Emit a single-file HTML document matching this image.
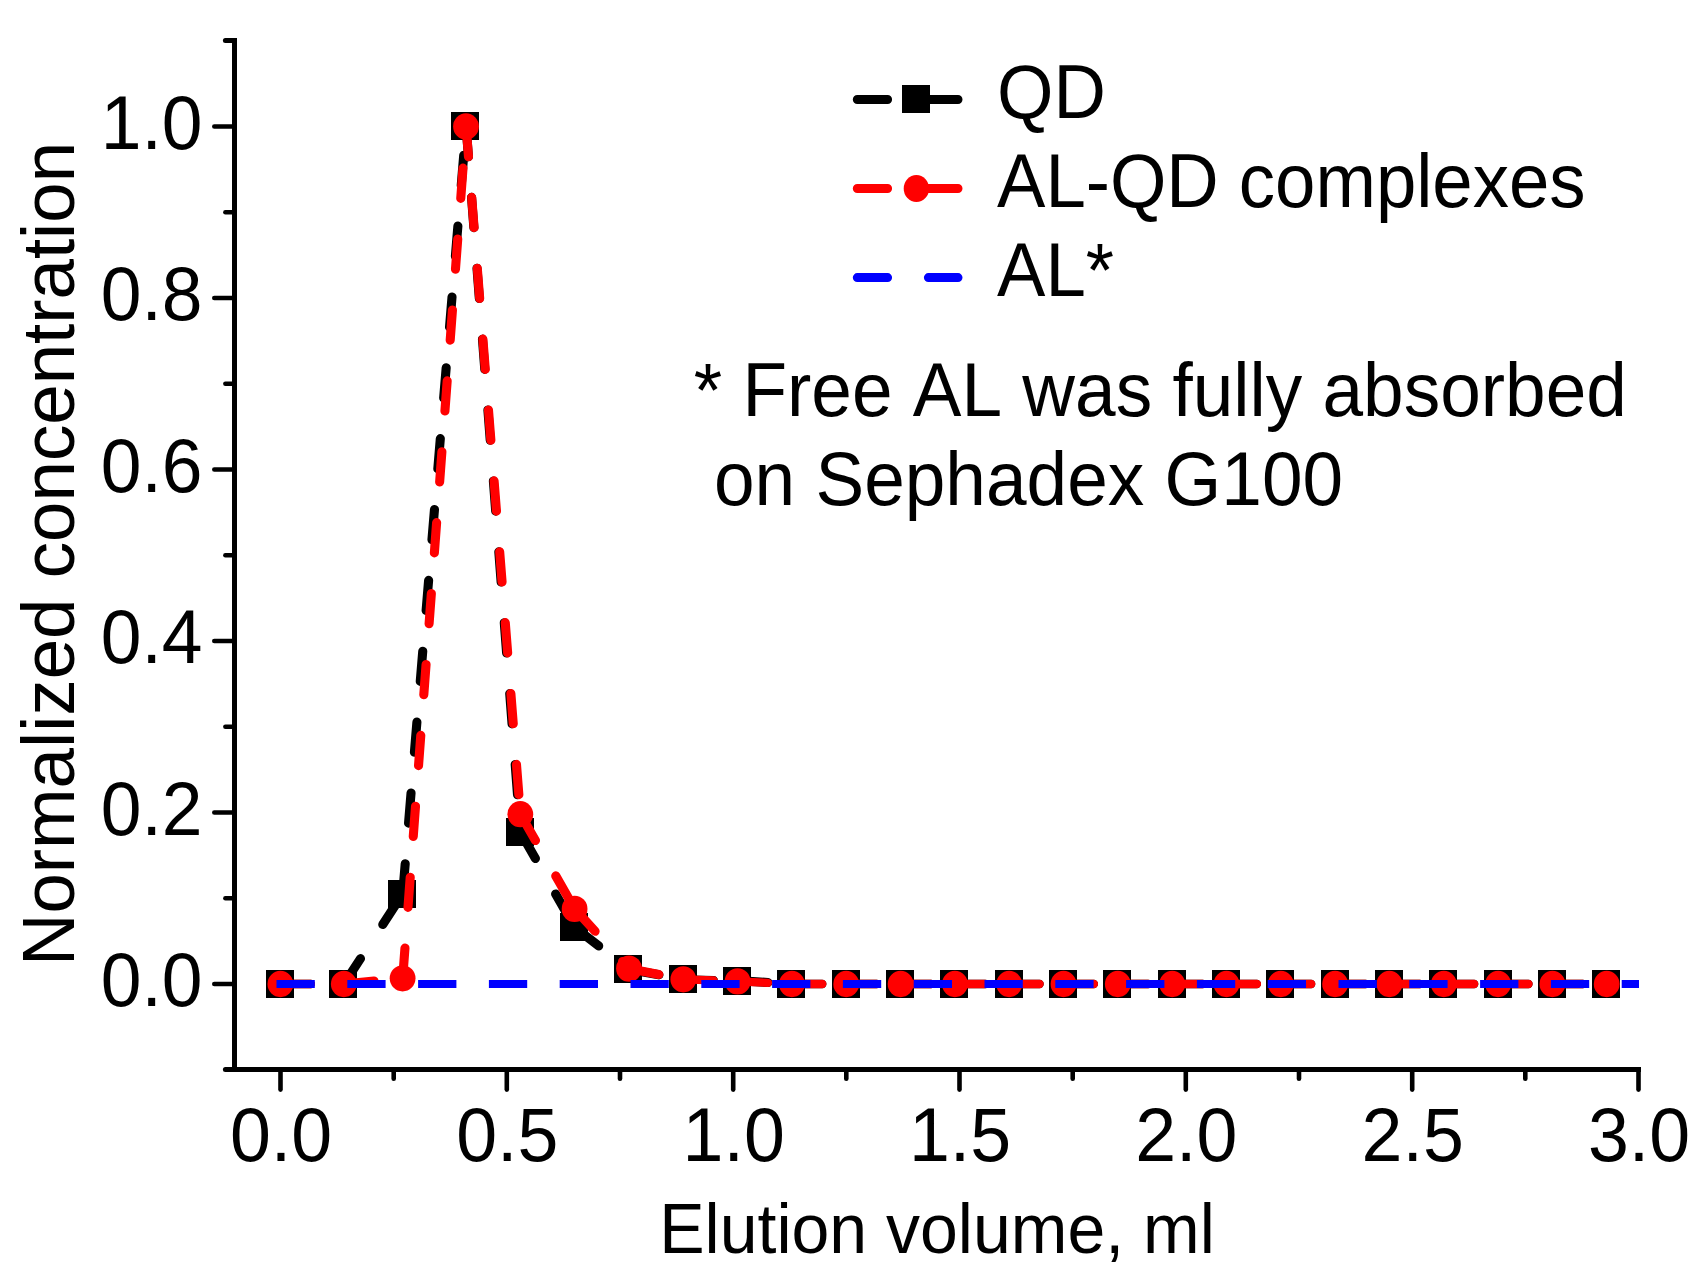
<!DOCTYPE html>
<html lang="en"><head><meta charset="utf-8"><title>Elution profile</title>
<style>html,body{margin:0;padding:0;background:#fff;overflow:hidden}svg{display:block}text{font-family:'Liberation Sans', sans-serif;fill:#000;font-kerning:none;white-space:pre}</style>
</head><body>
<svg width="1702" height="1273" viewBox="0 0 1702 1273">
<rect width="1702" height="1273" fill="#fff"/>
<g stroke="#000" stroke-width="5" fill="none" stroke-linecap="butt">
<line x1="234.5" y1="38" x2="234.5" y2="1072"/>
<line x1="232" y1="1069.5" x2="1641" y2="1069.5"/>
</g>
<g stroke="#000" stroke-width="4.6" fill="none" stroke-linecap="round">
<line x1="225.4" y1="1069.5" x2="234" y2="1069.5" stroke-width="5"/>
<line x1="214.3" y1="984.0" x2="234" y2="984.0"/>
<line x1="225.4" y1="898.2" x2="234" y2="898.2"/>
<line x1="214.3" y1="812.5" x2="234" y2="812.5"/>
<line x1="225.4" y1="726.8" x2="234" y2="726.8"/>
<line x1="214.3" y1="641.0" x2="234" y2="641.0"/>
<line x1="225.4" y1="555.2" x2="234" y2="555.2"/>
<line x1="214.3" y1="469.5" x2="234" y2="469.5"/>
<line x1="225.4" y1="383.8" x2="234" y2="383.8"/>
<line x1="214.3" y1="298.0" x2="234" y2="298.0"/>
<line x1="225.4" y1="212.2" x2="234" y2="212.2"/>
<line x1="214.3" y1="126.5" x2="234" y2="126.5"/>
<line x1="225.4" y1="40.5" x2="234" y2="40.5" stroke-width="5"/>
<line x1="280.5" y1="1070" x2="280.5" y2="1089.6"/>
<line x1="393.7" y1="1070" x2="393.7" y2="1078.7"/>
<line x1="506.8" y1="1070" x2="506.8" y2="1089.6"/>
<line x1="620.0" y1="1070" x2="620.0" y2="1078.7"/>
<line x1="733.2" y1="1070" x2="733.2" y2="1089.6"/>
<line x1="846.3" y1="1070" x2="846.3" y2="1078.7"/>
<line x1="959.5" y1="1070" x2="959.5" y2="1089.6"/>
<line x1="1072.7" y1="1070" x2="1072.7" y2="1078.7"/>
<line x1="1185.8" y1="1070" x2="1185.8" y2="1089.6"/>
<line x1="1299.0" y1="1070" x2="1299.0" y2="1078.7"/>
<line x1="1412.2" y1="1070" x2="1412.2" y2="1089.6"/>
<line x1="1525.3" y1="1070" x2="1525.3" y2="1078.7"/>
<line x1="1638.5" y1="1070" x2="1638.5" y2="1089.6"/>
</g>
<text transform="translate(202.5,1006.0) scale(1,1.040)" font-size="73.20" text-anchor="end">0.0</text>
<text transform="translate(202.5,834.5) scale(1,1.040)" font-size="73.20" text-anchor="end">0.2</text>
<text transform="translate(202.5,663.0) scale(1,1.040)" font-size="73.20" text-anchor="end">0.4</text>
<text transform="translate(202.5,491.5) scale(1,1.040)" font-size="73.20" text-anchor="end">0.6</text>
<text transform="translate(202.5,320.0) scale(1,1.040)" font-size="73.20" text-anchor="end">0.8</text>
<text transform="translate(202.5,148.5) scale(1,1.040)" font-size="73.20" text-anchor="end">1.0</text>
<text transform="translate(281.0,1161.0) scale(1,1.030)" font-size="73.50" text-anchor="middle">0.0</text>
<text transform="translate(507.3,1161.0) scale(1,1.030)" font-size="73.50" text-anchor="middle">0.5</text>
<text transform="translate(733.7,1161.0) scale(1,1.030)" font-size="73.50" text-anchor="middle">1.0</text>
<text transform="translate(960.0,1161.0) scale(1,1.030)" font-size="73.50" text-anchor="middle">1.5</text>
<text transform="translate(1186.3,1161.0) scale(1,1.030)" font-size="73.50" text-anchor="middle">2.0</text>
<text transform="translate(1412.7,1161.0) scale(1,1.030)" font-size="73.50" text-anchor="middle">2.5</text>
<text transform="translate(1639.0,1161.0) scale(1,1.030)" font-size="73.50" text-anchor="middle">3.0</text>
<text transform="translate(937.0,1253.0) scale(1,1.030)" font-size="68.00" text-anchor="middle">Elution volume, ml</text>
<text transform="translate(73.5,554.0) rotate(-90) scale(1,1.030)" font-size="72.70" text-anchor="middle">Normalized concentration</text>
<path d="M280.5 984.0L343.9 984.0 M683.4 979.3L737.7 980.6 M792.0 984.0L846.3 984.0 M846.3 984.0L900.7 984.0 M900.7 984.0L955.0 984.0 M955.0 984.0L1009.3 984.0 M1009.3 984.0L1063.6 984.0 M1063.6 984.0L1117.9 984.0 M1117.9 984.0L1172.3 984.0 M1172.3 984.0L1226.6 984.0 M1226.6 984.0L1280.9 984.0 M1280.9 984.0L1335.2 984.0 M1335.2 984.0L1389.5 984.0 M1389.5 984.0L1443.9 984.0 M1443.9 984.0L1498.2 984.0 M1498.2 984.0L1552.5 984.0 M1552.5 984.0L1606.8 984.0" fill="none" stroke="#000" stroke-width="8.3" stroke-dasharray="30.3 40.8" stroke-linecap="round"/>
<path d="M343.9 984.0L402.7 894.0 M402.7 894.0L466.1 126.5 M466.1 126.5L520.4 832.2 M520.4 832.2L574.7 927.4 M574.7 927.4L629.1 969.4 M629.1 969.4L683.4 979.3 M737.7 980.6L792.0 984.0" fill="none" stroke="#000" stroke-width="9.1" stroke-dasharray="30.3 40.8" stroke-linecap="round"/>
<g fill="#000">
<rect x="266" y="970" width="28" height="28"/>
<rect x="329" y="970" width="28" height="28"/>
<rect x="388" y="880" width="28" height="28"/>
<rect x="451" y="112" width="28" height="28"/>
<rect x="506" y="818" width="28" height="28"/>
<rect x="560" y="913" width="28" height="28"/>
<rect x="614" y="955" width="28" height="28"/>
<rect x="669" y="965" width="28" height="28"/>
<rect x="723" y="967" width="28" height="28"/>
<rect x="777" y="970" width="28" height="28"/>
<rect x="832" y="970" width="28" height="28"/>
<rect x="886" y="970" width="28" height="28"/>
<rect x="940" y="970" width="28" height="28"/>
<rect x="995" y="970" width="28" height="28"/>
<rect x="1049" y="970" width="28" height="28"/>
<rect x="1103" y="970" width="28" height="28"/>
<rect x="1158" y="970" width="28" height="28"/>
<rect x="1212" y="970" width="28" height="28"/>
<rect x="1266" y="970" width="28" height="28"/>
<rect x="1321" y="970" width="28" height="28"/>
<rect x="1375" y="970" width="28" height="28"/>
<rect x="1429" y="970" width="28" height="28"/>
<rect x="1484" y="970" width="28" height="28"/>
<rect x="1538" y="970" width="28" height="28"/>
<rect x="1592" y="970" width="28" height="28"/>
</g>
<path d="M280.5 984.0L343.9 984.0 M683.4 979.3L737.7 981.4 M737.7 981.4L792.0 984.0 M792.0 984.0L846.3 984.0 M846.3 984.0L900.7 984.0 M900.7 984.0L955.0 984.0 M955.0 984.0L1009.3 984.0 M1009.3 984.0L1063.6 984.0 M1063.6 984.0L1117.9 984.0 M1117.9 984.0L1172.3 984.0 M1172.3 984.0L1226.6 984.0 M1226.6 984.0L1280.9 984.0 M1280.9 984.0L1335.2 984.0 M1335.2 984.0L1389.5 984.0 M1389.5 984.0L1443.9 984.0 M1443.9 984.0L1498.2 984.0 M1498.2 984.0L1552.5 984.0 M1552.5 984.0L1606.8 984.0" fill="none" stroke="#f00" stroke-width="8.3" stroke-dasharray="30.3 40.8" stroke-linecap="round"/>
<path d="M343.9 984.0L402.7 978.3 M402.7 978.3L466.1 126.5 M466.1 126.5L520.4 814.2 M520.4 814.2L574.7 908.9 M574.7 908.9L629.1 968.6 M629.1 968.6L683.4 979.3" fill="none" stroke="#f00" stroke-width="9.1" stroke-dasharray="30.3 40.8" stroke-linecap="round"/>
<g fill="#f00">
<ellipse cx="280.4" cy="984.0" rx="12.9" ry="13.15"/>
<ellipse cx="343.8" cy="984.0" rx="12.9" ry="13.15"/>
<ellipse cx="402.6" cy="978.3" rx="12.9" ry="13.15"/>
<ellipse cx="466.0" cy="126.5" rx="12.9" ry="13.15"/>
<ellipse cx="520.3" cy="814.2" rx="12.9" ry="13.15"/>
<ellipse cx="574.6" cy="908.9" rx="12.9" ry="13.15"/>
<ellipse cx="629.0" cy="968.6" rx="12.9" ry="13.15"/>
<ellipse cx="683.3" cy="979.3" rx="12.9" ry="13.15"/>
<ellipse cx="737.6" cy="981.4" rx="12.9" ry="13.15"/>
<ellipse cx="791.9" cy="984.0" rx="12.9" ry="13.15"/>
<ellipse cx="846.2" cy="984.0" rx="12.9" ry="13.15"/>
<ellipse cx="900.6" cy="984.0" rx="12.9" ry="13.15"/>
<ellipse cx="954.9" cy="984.0" rx="12.9" ry="13.15"/>
<ellipse cx="1009.2" cy="984.0" rx="12.9" ry="13.15"/>
<ellipse cx="1063.5" cy="984.0" rx="12.9" ry="13.15"/>
<ellipse cx="1117.8" cy="984.0" rx="12.9" ry="13.15"/>
<ellipse cx="1172.2" cy="984.0" rx="12.9" ry="13.15"/>
<ellipse cx="1226.5" cy="984.0" rx="12.9" ry="13.15"/>
<ellipse cx="1280.8" cy="984.0" rx="12.9" ry="13.15"/>
<ellipse cx="1335.1" cy="984.0" rx="12.9" ry="13.15"/>
<ellipse cx="1389.4" cy="984.0" rx="12.9" ry="13.15"/>
<ellipse cx="1443.8" cy="984.0" rx="12.9" ry="13.15"/>
<ellipse cx="1498.1" cy="984.0" rx="12.9" ry="13.15"/>
<ellipse cx="1552.4" cy="984.0" rx="12.9" ry="13.15"/>
<ellipse cx="1606.7" cy="984.0" rx="12.9" ry="13.15"/>
</g>
<line x1="280.5" y1="984" x2="1635.0" y2="984" stroke="#00f" stroke-width="8" stroke-dasharray="30.3 40.5" stroke-linecap="square"/>
<line x1="857.3" y1="99.5" x2="958" y2="99.5" stroke="#000" stroke-width="9" stroke-dasharray="30.3 40.8" stroke-linecap="round"/>
<rect x="902" y="85" width="28" height="28" fill="#000"/>
<line x1="857.3" y1="188.5" x2="958" y2="188.5" stroke="#f00" stroke-width="9" stroke-dasharray="30.3 40.8" stroke-linecap="round"/>
<ellipse cx="916.4" cy="188.5" rx="12.7" ry="13.6" fill="#f00"/>
<line x1="857.3" y1="277.6" x2="958" y2="277.6" stroke="#00f" stroke-width="9" stroke-dasharray="30.3 40.8" stroke-linecap="round"/>
<text transform="translate(997.0,117.9) scale(1,1.058)" font-size="72.55">QD</text>
<text transform="translate(997.0,207.0) scale(1,1.050)" font-size="72.55">AL-QD complexes</text>
<text transform="translate(997.0,296.1) scale(1,1.058)" font-size="72.55">AL*</text>
<text transform="translate(693.7,416.1) scale(1,1.045)" font-size="73.00">* Free AL was fully absorbed</text>
<text transform="translate(693.7,505.3) scale(1,1.045)" font-size="73.00" xml:space="preserve"> on Sephadex G100</text>
</svg>
</body></html>
